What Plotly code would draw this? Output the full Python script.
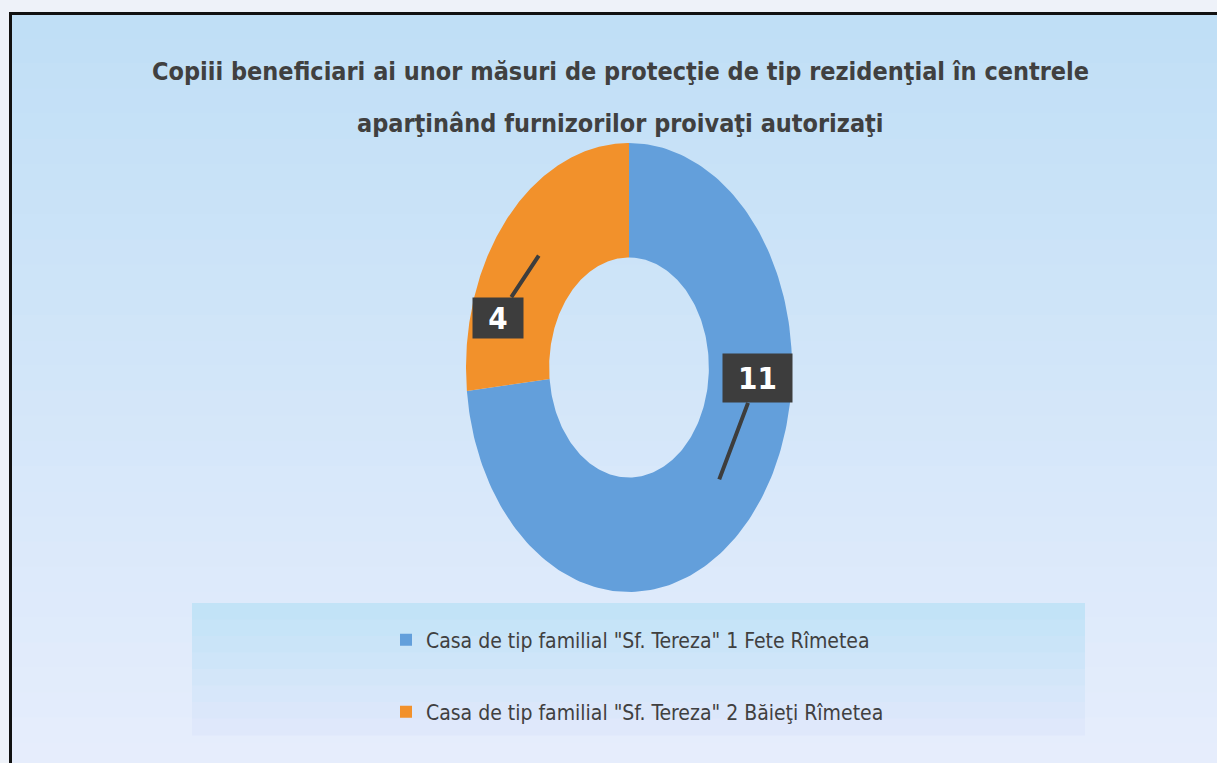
import numpy as np
import plotly.graph_objects as go

# ---- data ----
categories = ['Casa de tip familial "Sf. Tereza" 1 Fete Rîmetea',
              'Casa de tip familial "Sf. Tereza" 2 Băieţi Rîmetea']
values = [11, 4]
colors = ["#639fdb", "#f2912b"]
title_lines = ["Copiii beneficiari ai unor măsuri de protecţie de tip rezidenţial în centrele",
               "aparţinând furnizorilor proivaţi autorizaţi"]

W, H = 1217, 763
HOLE = 0.49
FONT = "DejaVu Sans Condensed"


def px(x):
    return x / W


def py(y):
    return 1 - y / H


def hexmix(c1, c2, t):
    a = [int(c1[i:i + 2], 16) for i in (1, 3, 5)]
    b = [int(c2[i:i + 2], 16) for i in (1, 3, 5)]
    return "#" + "".join(f"{round(a[k] + (b[k] - a[k]) * t):02x}" for k in range(3))


fig = go.Figure()

# ---- donut slices, clockwise from 12 o'clock ----
total = sum(values)
start = 0.0
mids = []
for i, (cat, v) in enumerate(zip(categories, values)):
    frac = v / total
    a0 = np.pi / 2 - 2 * np.pi * start
    a1 = np.pi / 2 - 2 * np.pi * (start + frac)
    t = np.linspace(a0, a1, 200)
    xs = np.concatenate([np.cos(t), HOLE * np.cos(t[::-1]), [np.cos(t[0])]])
    ys = np.concatenate([np.sin(t), HOLE * np.sin(t[::-1]), [np.sin(t[0])]])
    fig.add_trace(go.Scatter(x=xs, y=ys, fill="toself", mode="lines",
                             line=dict(width=0, color=colors[i]),
                             fillcolor=colors[i], name=cat, hoverinfo="name",
                             showlegend=False))
    # legend entry (square swatch)
    fig.add_trace(go.Scatter(x=[None], y=[None], mode="markers", name=cat,
                             marker=dict(symbol="square", size=12, color=colors[i]),
                             legend="legend" if i == 0 else "legend2"))
    am = (a0 + a1) / 2
    mids.append((am, v))
    start += frac

# ---- data callouts ----
offsets = [(38, -101), (-41, 62)]
boxes = [(61, 40), (42, 32)]
for (am, v), (ax, ay), (bw, bh) in zip(mids, offsets, boxes):
    r = (1 + HOLE) / 2
    fig.add_annotation(x=r * np.cos(am), y=r * np.sin(am), xref="x", yref="y",
                       text=f"<b>{v}</b>", showarrow=True, ax=ax, ay=ay,
                       arrowhead=0, arrowwidth=4, arrowcolor="#3d3d3d",
                       bgcolor="#3d3d3d", borderpad=4, width=bw, height=bh,
                       font=dict(family=FONT, size=31, color="white"))

# ---- title ----
for line, y in zip(title_lines, [71, 123]):
    fig.add_annotation(x=px(620), y=py(y), xref="paper", yref="paper",
                       text=f"<b>{line}</b>", showarrow=False, xanchor="center", yanchor="middle",
                       font=dict(family=FONT, size=25, color="#404040"))

# ---- background (gradient bands) ----
shapes = []
y_top, y_bot = 13, H + 5
n = 30
for k in range(n):
    y0 = y_top + (y_bot - y_top) * k / n
    y1 = y_top + (y_bot - y_top) * (k + 1) / n
    shapes.append(dict(type="rect", xref="paper", yref="paper", layer="below",
                       x0=px(10), x1=1.01, y0=py(y1 + 1), y1=py(y0),
                       fillcolor=hexmix("#c0dff6", "#e6edfc", k / (n - 1)),
                       line=dict(width=0)))
# legend panel
m = 8
for k in range(m):
    y0 = 603 + (735 - 603) * k / m
    y1 = 603 + (735 - 603) * (k + 1) / m
    shapes.append(dict(type="rect", xref="paper", yref="paper", layer="below",
                       x0=px(192), x1=px(1085), y0=py(y1 + 0.5), y1=py(y0),
                       fillcolor=hexmix("#c2e3f7", "#dfe8fb", k / (m - 1)),
                       line=dict(width=0)))
# frame
shapes.append(dict(type="rect", xref="paper", yref="paper", layer="below",
                   x0=px(10.5), x1=1.02, y0=-0.02, y1=py(13.5),
                   fillcolor="rgba(0,0,0,0)", line=dict(color="#111111", width=3)))

fig.update_layout(
    width=W, height=H,
    margin=dict(l=0, r=0, t=0, b=0),
    paper_bgcolor="#eef2f9",
    plot_bgcolor="rgba(0,0,0,0)",
    shapes=shapes,
    xaxis=dict(domain=[px(466), px(792)], range=[-1, 1], visible=False, fixedrange=True),
    yaxis=dict(domain=[py(592), py(143)], range=[-1, 1], visible=False, fixedrange=True),
    legend=dict(x=px(386), y=py(640), xanchor="left", yanchor="middle",
                bgcolor="rgba(0,0,0,0)", font=dict(family=FONT, size=21, color="#404040"),
                itemwidth=30),
    legend2=dict(x=px(386), y=py(712), xanchor="left", yanchor="middle",
                 bgcolor="rgba(0,0,0,0)", font=dict(family=FONT, size=21, color="#404040"),
                 itemwidth=30),
    showlegend=True,
)

fig.write_html("out.html", config={"displayModeBar": False},
               post_script="document.body.style.margin='0';document.body.style.overflow='hidden';")
